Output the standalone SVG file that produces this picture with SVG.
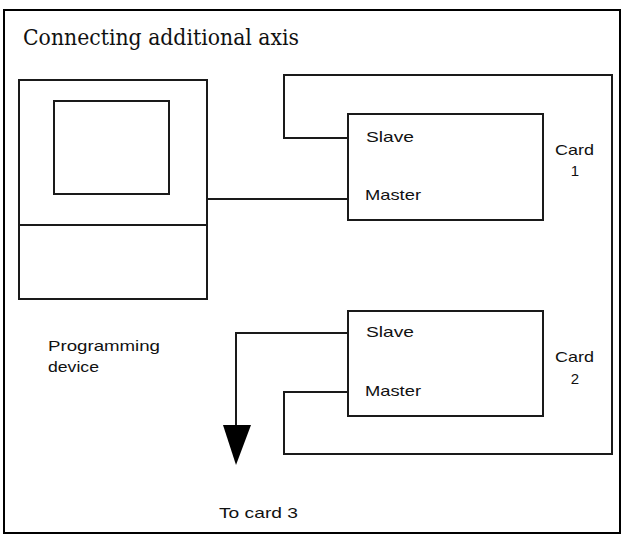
<svg xmlns="http://www.w3.org/2000/svg" width="624" height="536" viewBox="0 0 624 536">
<style>
.box{fill:#fff;stroke:#1a1a1a;stroke-width:2}
.wire{fill:none;stroke:#1a1a1a;stroke-width:2}
.lbl{font-family:"Liberation Sans",Arial,sans-serif;font-size:15px;fill:#111}
.title{font-family:"DejaVu Serif","Liberation Serif",serif;font-size:23px;fill:#111}
</style>
<rect x="0" y="0" width="624" height="536" fill="#fff"/>
<rect x="4" y="10" width="616" height="523" fill="none" stroke="#000" stroke-width="2"/>
<text class="title" x="23" y="45" textLength="276" lengthAdjust="spacingAndGlyphs">Connecting additional axis</text>

<g id="connectors">
  <polyline class="wire" points="207,199 348,199"/>
  <polyline class="wire" points="348,138 284,138 284,75 612,75 612,454 284,454 284,392 348,392"/>
  <polyline class="wire" points="348,333 236,333 236,426"/>
  <polygon points="223,425 251,425 236,465" fill="#000"/>
</g>

<g id="programming-device">
  <rect class="box" x="19" y="80" width="188" height="219"/>
  <line class="wire" x1="19" y1="225" x2="207" y2="225"/>
  <rect class="box" x="54" y="101" width="115" height="93"/>
  <text class="lbl" x="48" y="351" textLength="112" lengthAdjust="spacingAndGlyphs">Programming</text>
  <text class="lbl" x="48" y="372" textLength="51" lengthAdjust="spacingAndGlyphs">device</text>
</g>

<g id="card1">
  <rect class="box" x="348" y="114" width="195" height="106"/>
  <text class="lbl" x="366" y="142" textLength="48" lengthAdjust="spacingAndGlyphs">Slave</text>
  <text class="lbl" x="365" y="200" textLength="56" lengthAdjust="spacingAndGlyphs">Master</text>
  <text class="lbl" x="555" y="155" textLength="39" lengthAdjust="spacingAndGlyphs">Card</text>
  <text class="lbl" x="575" y="176" text-anchor="middle">1</text>
</g>

<g id="card2">
  <rect class="box" x="348" y="311" width="195" height="105"/>
  <text class="lbl" x="366" y="337" textLength="48" lengthAdjust="spacingAndGlyphs">Slave</text>
  <text class="lbl" x="365" y="396" textLength="56" lengthAdjust="spacingAndGlyphs">Master</text>
  <text class="lbl" x="555" y="362" textLength="39" lengthAdjust="spacingAndGlyphs">Card</text>
  <text class="lbl" x="575" y="384" text-anchor="middle">2</text>
</g>

<g id="to-card-3">
  <text class="lbl" x="219" y="518" textLength="79" lengthAdjust="spacingAndGlyphs">To card 3</text>
</g>
</svg>
